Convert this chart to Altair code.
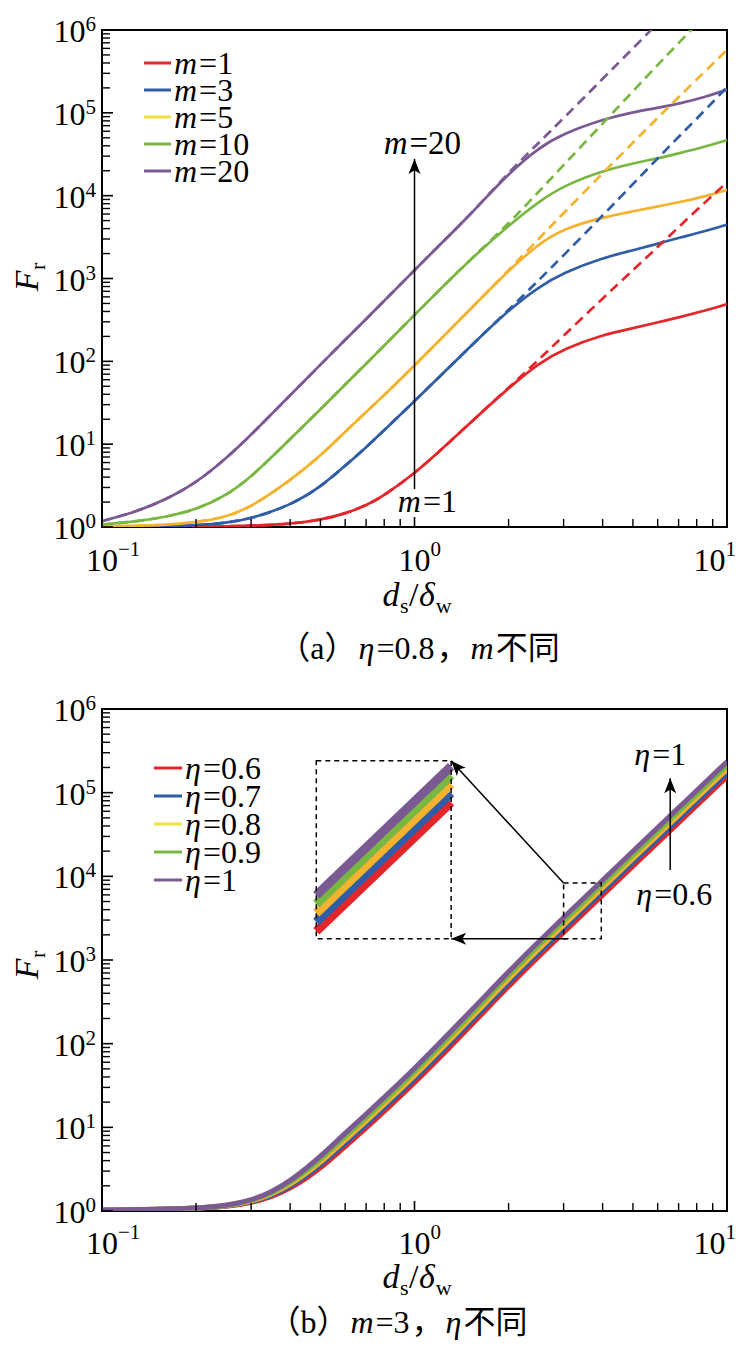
import math
import altair as alt
import pandas as pd

FONT = "Liberation Serif"
FONT_CJK = "Liberation Serif, Noto Sans CJK SC"
COLORS = ["#E4262B", "#2F5DA8", "#F4B22E", "#79B743", "#7B5A93"]
LEGEND_COLORS = ["#E4262B", "#2F5DA8", "#EFE13F", "#79B743", "#7B5A93"]

# ---------------- panel (a): eta = 0.8, different m ----------------
xa = [0.1, 0.13, 0.16, 0.2, 0.25, 0.3, 0.4, 0.5, 0.6, 0.7, 0.8, 1.0, 1.2, 1.5,
      2.0, 2.5, 3.0, 4.0, 5.0, 6.0, 7.0, 8.5, 10.0]
m_values = ["1", "3", "5", "10", "20"]
Fa_m1 = [1.007, 1.009, 1.012, 1.014, 1.019, 1.03, 1.084, 1.216, 1.445, 1.82, 2.40, 4.42, 8.13, 17.8,
         47.9, 95.5, 141, 209, 251, 295, 339, 407, 490]
Fa_m3 = [1.01, 1.014, 1.021, 1.047, 1.12, 1.26, 1.82, 3.02, 5.5, 9.1, 14.8, 33.1, 64.6, 148,
         417, 794, 1175, 1778, 2188, 2630, 3090, 3715, 4467]
Fa_m5 = [1.02, 1.03, 1.06, 1.135, 1.32, 1.74, 3.63, 7.24, 14.1, 24.5, 38.9, 89.1, 178, 417,
         1259, 2630, 3981, 5495, 6457, 7413, 8318, 9772, 11750]
Fa_m10 = [1.07, 1.17, 1.32, 1.62, 2.40, 3.98, 11.5, 26.3, 52.5, 93.3, 155, 363, 724, 1660,
          4365, 8511, 13180, 19950, 24550, 28180, 32360, 38900, 46770]
Fa_m20 = [1.175, 1.55, 2.14, 3.39, 6.76, 12.9, 38.9, 91.2, 182, 324, 537, 1259, 2512, 5754,
          18620, 38020, 56230, 83180, 102300, 114800, 128800, 154900, 190500]
# dashed (asymptotic) curves
Da_m1 = [1.007, 1.009, 1.012, 1.014, 1.019, 1.03, 1.084, 1.216, 1.445, 1.82, 2.40, 4.42, 8.13, 17.8,
         47.9, 105, 204, 575, 1259, 2399, 4169, 8318, 14450]
Da_m3 = [1.01, 1.014, 1.021, 1.047, 1.12, 1.26, 1.82, 3.02, 5.5, 9.1, 14.8, 33.1, 64.6, 148,
         417, 955, 1905, 5754, 13800, 28180, 51290, 107200, 204200]
Da_m5 = [1.02, 1.03, 1.06, 1.135, 1.32, 1.74, 3.63, 7.24, 14.1, 24.5, 38.9, 89.1, 178, 417,
         1259, 3020, 6166, 18620, 43650, 87100, 154900, 316200, 575400]
Da_m10 = [1.07, 1.17, 1.32, 1.62, 2.40, 3.98, 11.5, 26.3, 52.5, 93.3, 155, 363, 724, 1660,
          4571, 11220, 23440, 74130, 182000, 380200, 691800, 1514000, None]
Da_m20 = [1.175, 1.55, 2.14, 3.39, 6.76, 12.9, 38.9, 91.2, 182, 324, 537, 1259, 2512, 5754,
          19050, 43650, 86100, 257000, 602600, 1202000, None, None, None]

# ---------------- panel (b): m = 3, different eta ----------------
xb = [0.1, 0.15, 0.2, 0.25, 0.3, 0.35, 0.4, 0.45, 0.5, 0.6, 0.7, 0.8, 1.0, 1.3, 1.65, 2.0, 3.0, 5.0, 7.0, 10.0]
eta_values = ["0.6", "0.7", "0.8", "0.9", "1"]
Fb_06 = [1.028, 1.042, 1.072, 1.127, 1.247, 1.479, 1.862, 2.455, 3.236, 5.888, 9.772, 15.49, 33.88,
         91.20, 229.1, 489.8, 2138, 13180, 43650, 154900]
Fb_07 = [1.028, 1.043, 1.075, 1.135, 1.269, 1.531, 1.961, 2.630, 3.508, 6.457, 10.74, 17.08, 37.36,
         100.9, 253.4, 541.9, 2371, 14620, 48420, 171800]
Fb_08 = [1.028, 1.045, 1.078, 1.143, 1.291, 1.585, 2.065, 2.818, 3.802, 7.079, 11.82, 18.84, 41.21,
         111.5, 280.2, 599.2, 2630, 16220, 53700, 190500]
Fb_09 = [1.028, 1.046, 1.081, 1.151, 1.314, 1.641, 2.176, 3.020, 4.121, 7.762, 12.99, 20.77, 45.45,
         123.4, 309.9, 662.6, 2917, 17990, 59570, 211300]
Fb_10 = [1.028, 1.047, 1.084, 1.159, 1.337, 1.698, 2.291, 3.236, 4.467, 8.511, 14.29, 22.91, 50.12,
         136.5, 342.8, 732.8, 3236, 19950, 66070, 234400]
# magnified inset (drawn inside the large dashed box)
inset_x = [0.485, 1.31]
inset_06 = [2200, 77000]
inset_07 = [2840, 99000]
inset_08 = [3630, 126000]
inset_09 = [4660, 162000]
inset_10 = [5960, 207000]
small_box = [3.0, 3.96, 1800, 8300]      # x1, x2, y1, y2
big_box = [0.485, 1.31, 1800, 240000]

# ---------------- ticks ----------------
y_major = [1, 10, 100, 1e3, 1e4, 1e5, 1e6]
y_minor = [k * 10 ** n for n in range(0, 6) for k in range(2, 10)]
x_major = [0.1, 1, 10]
x_minor = [0.2, 0.3, 0.4, 0.5, 0.6, 0.7, 0.8, 0.9, 2, 3, 4, 5, 6, 7, 8, 9]
y_tick_exps = ["0", "1", "2", "3", "4", "5", "6"]
x_tick_exps = ["\u22121", "0", "1"]

W = 625
HA = 497
HB = 502

XSC = alt.Scale(type="log", domain=[0.1, 10], nice=False)
YSC = alt.Scale(type="log", domain=[1, 1e6], nice=False)

REG = {'=': 0.564, '.': 0.25, '/': 0.278, 'a': 0.444, 'b': 0.5, 'r': 0.333, 's': 0.389,
       'w': 0.722, '\u2212': 0.564, '（': 1.0, '）': 1.0, '，': 1.0, '不': 1.0, '同': 1.0}
ITA = {'m': 0.722, 'F': 0.611, 'd': 0.5, 'η': 0.5, 'δ': 0.48}


def tw(t, size, italic):
    tab = ITA if italic else REG
    return sum(tab.get(ch, 0.5) for ch in t) * size


def rich(pieces, x_enc, y_enc, row=None, align="left", angle=0, gap=2.0):
    widths = [tw(p[0], p[1], p[2]) for p in pieces]
    total = sum(widths) + gap * (len(pieces) - 1)
    off = {"left": 0.0, "center": -total / 2.0, "right": -total}[align]
    out = []
    for p, w in zip(pieces, widths):
        t, s, it, dy = p[0], p[1], p[2], p[3]
        f = p[4] if len(p) > 4 else FONT
        r = dict(row or {})
        r["t"] = t
        out.append(
            alt.Chart(alt.Data(values=[r])).mark_text(
                align="left", baseline="alphabetic", dx=round(off, 1), dy=dy, fontSize=s, font=f,
                fontStyle="italic" if it else "normal", angle=angle, color="black"
            ).encode(x=x_enc, y=y_enc, text="t:N")
        )
        off += w + gap
    return out


ARROW = "M0,0 L0.8,2 L0,1.5 L-0.8,2 Z"


def frame_layers(H, ytitle_y, xlab_base, xtitle_base, cap_x, cap_base, caption):
    L = []
    # ticks (inward)
    L.append(alt.Chart(pd.DataFrame({"v": y_major})).mark_rule(color="black", strokeWidth=1.6).encode(
        y=alt.Y("v:Q", scale=YSC, axis=None), x=alt.value(0), x2=alt.value(11)))
    L.append(alt.Chart(pd.DataFrame({"v": y_minor})).mark_rule(color="black", strokeWidth=1.4).encode(
        y=alt.Y("v:Q", scale=YSC, axis=None), x=alt.value(0), x2=alt.value(8)))
    L.append(alt.Chart(pd.DataFrame({"v": x_major})).mark_rule(color="black", strokeWidth=1.6).encode(
        x=alt.X("v:Q", scale=XSC, axis=None), y=alt.value(H), y2=alt.value(H - 10)))
    L.append(alt.Chart(pd.DataFrame({"v": x_minor})).mark_rule(color="black", strokeWidth=1.4).encode(
        x=alt.X("v:Q", scale=XSC, axis=None), y=alt.value(H), y2=alt.value(H - 8)))
    # tick labels 10^n
    LS, ES = 32, 21
    ylab = pd.DataFrame({"v": y_major, "b": ["10"] * len(y_major), "e": y_tick_exps})
    L.append(alt.Chart(ylab).mark_text(align="right", baseline="alphabetic", dx=-6 - ES * 0.5, dy=12,
                                       fontSize=LS, font=FONT, color="black").encode(
        y=alt.Y("v:Q", scale=YSC, axis=None), x=alt.value(0), text="b:N"))
    L.append(alt.Chart(ylab).mark_text(align="right", baseline="alphabetic", dx=-6, dy=1,
                                       fontSize=ES, font=FONT, color="black").encode(
        y=alt.Y("v:Q", scale=YSC, axis=None), x=alt.value(0), text="e:N"))
    xlab = pd.DataFrame({"v": x_major, "b": ["10"] * len(x_major), "e": x_tick_exps})
    inner, last = xlab.iloc[:-1], xlab.iloc[-1:]
    L.append(alt.Chart(inner).mark_text(align="center", baseline="alphabetic",
                                        fontSize=LS, font=FONT, color="black").encode(
        x=alt.X("v:Q", scale=XSC, axis=None), y=alt.value(H + xlab_base), text="b:N"))
    L.append(alt.Chart(inner).mark_text(align="left", baseline="alphabetic", dx=LS * 0.5,
                                        fontSize=ES, font=FONT, color="black").encode(
        x=alt.X("v:Q", scale=XSC, axis=None), y=alt.value(H + xlab_base - 15), text="e:N"))
    # last label kept inside the page edge
    L.append(alt.Chart(last).mark_text(align="right", baseline="alphabetic", dx=9 - ES * 0.5,
                                       fontSize=LS, font=FONT, color="black").encode(
        x=alt.X("v:Q", scale=XSC, axis=None), y=alt.value(H + xlab_base), text="b:N"))
    L.append(alt.Chart(last).mark_text(align="right", baseline="alphabetic", dx=9,
                                       fontSize=ES, font=FONT, color="black").encode(
        x=alt.X("v:Q", scale=XSC, axis=None), y=alt.value(H + xlab_base - 15), text="e:N"))
    # axis titles
    L += rich([("F", 34, True, 0), ("r", 22, False, 7)], alt.value(-64), alt.value(ytitle_y),
              align="center", angle=270, gap=0.5)
    L += rich([("d", 34, True, 0), ("s", 22, False, 7), ("/", 34, False, 0), ("δ", 34, True, 0),
               ("w", 22, False, 7)], alt.value(315), alt.value(H + xtitle_base), align="center", gap=0.5)
    # caption
    L += rich(caption, alt.value(cap_x), alt.value(H + cap_base), align="center")
    return L


def legend_layers(names, sym, top, gap, sx1, sx2, tx, size=32):
    L = []
    for i, (nm, c) in enumerate(zip(names, LEGEND_COLORS)):
        yc = top + gap * i
        L.append(alt.Chart(alt.Data(values=[{"k": nm}])).mark_rule(strokeWidth=3, color=c).encode(
            x=alt.value(sx1), x2=alt.value(sx2), y=alt.value(yc)))
        L += rich([(sym, size, True, 0), ("=" + nm, size, False, 0)], alt.value(tx), alt.value(yc + 11))
    return L


# ---------------- panel (a) ----------------
layers_a = []
solid_a = [Fa_m1, Fa_m3, Fa_m5, Fa_m10, Fa_m20]
dash_a = [Da_m1, Da_m3, Da_m5, Da_m10, Da_m20]
for m, ys, c in zip(m_values, solid_a, COLORS):
    d = pd.DataFrame({"x": xa, "F": ys, "m": m})
    layers_a.append(alt.Chart(d).mark_line(strokeWidth=2.7, interpolate="basis", clip=True, color=c).encode(
        x=alt.X("x:Q", scale=XSC, axis=None), y=alt.Y("F:Q", scale=YSC, axis=None)))
for m, ys, c in zip(m_values, dash_a, COLORS):
    d = pd.DataFrame({"x": xa, "F": ys, "m": m}).dropna()
    layers_a.append(alt.Chart(d).mark_line(strokeWidth=2.7, interpolate="basis", clip=True, color=c,
                                           strokeDash=[10, 6]).encode(
        x=alt.X("x:Q", scale=XSC, axis=None), y=alt.Y("F:Q", scale=YSC, axis=None)))
# annotation arrow m=1 -> m=20
arr_a = pd.DataFrame({"x": [1.0], "y0": [2.88], "y1": [27800]})
layers_a.append(alt.Chart(arr_a).mark_rule(color="black", strokeWidth=1.5).encode(
    x=alt.X("x:Q", scale=XSC, axis=None), y=alt.Y("y0:Q", scale=YSC, axis=None), y2="y1:Q"))
layers_a.append(alt.Chart(arr_a).mark_point(shape=ARROW, filled=True, size=225, color="black",
                                            opacity=1, angle=0).encode(
    x=alt.X("x:Q", scale=XSC, axis=None), y=alt.Y("y1:Q", scale=YSC, axis=None)))
xe = alt.X("x:Q", scale=XSC, axis=None)
ye = alt.Y("y:Q", scale=YSC, axis=None)
layers_a += rich([("m", 33, True, 0), ("=20", 33, False, 0)], xe, ye, row={"x": 1.06, "y": 32000}, align="center")
layers_a += rich([("m", 32, True, 0), ("=1", 32, False, 0)], xe, ye, row={"x": 1.10, "y": 1.52}, align="center")
layers_a += legend_layers(m_values, "m", 33, 27, 42, 69, 72)
cap_a = [("（a）", 32, False, 0, FONT_CJK), ("η", 32, True, 0), ("=0.8", 32, False, 0),
         ("，", 32, False, 0, FONT_CJK), ("m", 32, True, 0), ("不同", 32, False, 0, FONT_CJK)]
layers_a += frame_layers(HA, 247, 44, 79, 317, 132, cap_a)
panel_a = alt.layer(*layers_a).properties(width=W, height=HA)

# ---------------- panel (b) ----------------
layers_b = []
solid_b = [Fb_06, Fb_07, Fb_08, Fb_09, Fb_10]
inset_b = [inset_06, inset_07, inset_08, inset_09, inset_10]
for e, ys, c in zip(eta_values, solid_b, COLORS):
    d = pd.DataFrame({"x": xb, "F": ys, "eta": e})
    layers_b.append(alt.Chart(d).mark_line(strokeWidth=5, interpolate="basis", clip=True, color=c).encode(
        x=alt.X("x:Q", scale=XSC, axis=None), y=alt.Y("F:Q", scale=YSC, axis=None)))
for e, ys, c in zip(eta_values, inset_b, COLORS):
    d = pd.DataFrame({"x": inset_x, "F": ys, "eta": e})
    layers_b.append(alt.Chart(d).mark_line(strokeWidth=9, strokeCap="butt", color=c).encode(
        x=alt.X("x:Q", scale=XSC, axis=None), y=alt.Y("F:Q", scale=YSC, axis=None)))
boxes = pd.DataFrame({"x1": [small_box[0], big_box[0]], "x2": [small_box[1], big_box[1]],
                      "y1": [small_box[2], big_box[2]], "y2": [small_box[3], big_box[3]]})
layers_b.append(alt.Chart(boxes).mark_rect(fillOpacity=0, fill="white", stroke="black", strokeWidth=1.5,
                                           strokeDash=[5, 4]).encode(
    x=alt.X("x1:Q", scale=XSC, axis=None), x2="x2:Q", y=alt.Y("y1:Q", scale=YSC, axis=None), y2="y2:Q"))
# arrows from small box to inset box
arr_xs = [small_box[0], 3.09]
arr_ys = [small_box[3], 1800]
arr_xe = [big_box[1], big_box[1]]
arr_ye = [big_box[3], 1800]
arrows_b = pd.DataFrame({"sx": arr_xs, "sy": arr_ys, "ex": arr_xe, "ey": arr_ye})
layers_b.append(alt.Chart(arrows_b).mark_rule(color="black", strokeWidth=1.5).encode(
    x=alt.X("sx:Q", scale=XSC, axis=None), x2="ex:Q", y=alt.Y("sy:Q", scale=YSC, axis=None), y2="ey:Q"))
for i in range(2):
    dxp = (math.log10(arr_xe[i]) - math.log10(arr_xs[i])) * W / 2.0
    dyp = -(math.log10(arr_ye[i]) - math.log10(arr_ys[i])) * HB / 6.0
    ang = math.degrees(math.atan2(dxp, -dyp)) % 360
    layers_b.append(alt.Chart(arrows_b.iloc[[i]]).mark_point(shape=ARROW, filled=True, size=225, color="black",
                                                             opacity=1, angle=round(ang, 1)).encode(
        x=alt.X("ex:Q", scale=XSC, axis=None), y=alt.Y("ey:Q", scale=YSC, axis=None)))
# eta arrow
arr_b = pd.DataFrame({"x": [6.58], "y0": [11900], "y1": [149000]})
layers_b.append(alt.Chart(arr_b).mark_rule(color="black", strokeWidth=1.5).encode(
    x=alt.X("x:Q", scale=XSC, axis=None), y=alt.Y("y0:Q", scale=YSC, axis=None), y2="y1:Q"))
layers_b.append(alt.Chart(arr_b).mark_point(shape=ARROW, filled=True, size=225, color="black",
                                            opacity=1, angle=0).encode(
    x=alt.X("x:Q", scale=XSC, axis=None), y=alt.Y("y1:Q", scale=YSC, axis=None)))
layers_b += rich([("η", 32, True, 0), ("=1", 32, False, 0)], xe, ye, row={"x": 6.11, "y": 214000}, align="center")
layers_b += rich([("η", 32, True, 0), ("=0.6", 32, False, 0)], xe, ye, row={"x": 6.78, "y": 4530}, align="center")
layers_b += legend_layers(eta_values, "η", 59, 28, 52, 80, 83)
cap_b = [("（b）", 32, False, 0, FONT_CJK), ("m", 32, True, 0), ("=3", 32, False, 0),
         ("，", 32, False, 0, FONT_CJK), ("η", 32, True, 0), ("不同", 32, False, 0, FONT_CJK)]
layers_b += frame_layers(HB, 256, 43, 77, 296, 122, cap_b)
panel_b = alt.layer(*layers_b).properties(width=W, height=HB)

chart = alt.vconcat(panel_a, panel_b, spacing=26).properties(
    padding={"left": 2, "top": 5, "right": 0, "bottom": 5}
).configure_view(stroke="black", strokeWidth=2)

chart.save("out.html", embed_options={"renderer": "svg", "actions": False})
